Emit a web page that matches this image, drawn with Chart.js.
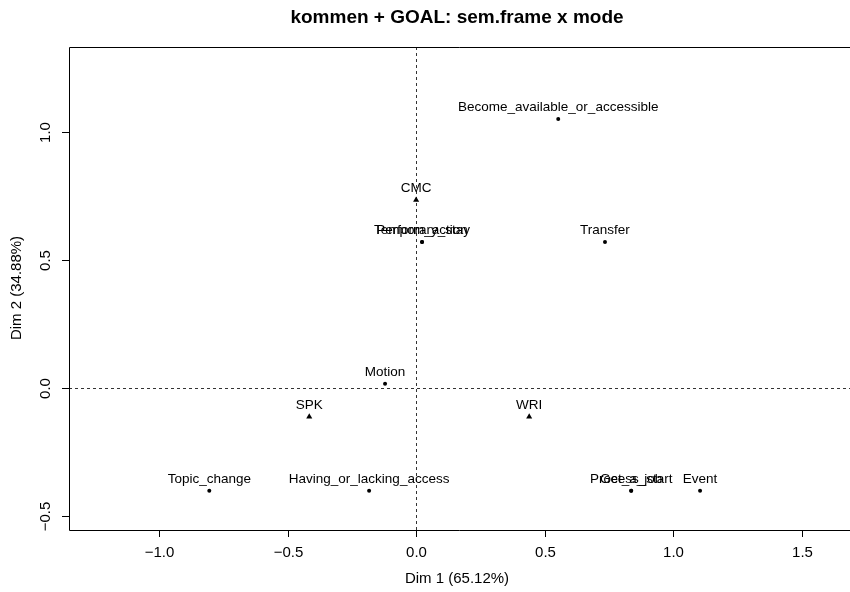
<!DOCTYPE html>
<html>
<head>
<meta charset="utf-8">
<script src="https://cdn.jsdelivr.net/npm/chart.js@4"></script>
<style>
  body { margin: 0; background: #fff; }
  #grafica { display: block; }
</style>
</head>
<body>
<canvas id="grafica" width="850" height="592"></canvas>
<script>
// filas (sem.frame) - puntos
const rowNames = ["Become_available_or_accessible", "Temporary_stay", "Perform_action", "Transfer",
  "Motion", "Topic_change", "Having_or_lacking_access", "Process_start", "Get_a_job", "Event"];
const rowX = [0.553, 0.023, 0.023, 0.735, -0.121, -0.805, -0.183, 0.837, 0.837, 1.105];
const rowY = [1.051, 0.570, 0.570, 0.570, 0.016, -0.402, -0.402, -0.402, -0.402, -0.402];

// columnas (mode) - triangulos
const colNames = ["CMC", "SPK", "WRI"];
const colX = [0.000, -0.416, 0.440];
const colY = [0.734, -0.113, -0.113];

const xTicks = [-1.0, -0.5, 0.0, 0.5, 1.0, 1.5];
const yTicks = [-0.5, 0.0, 0.5, 1.0];

const titulo = "kommen + GOAL: sem.frame x mode";
const tituloX = "Dim 1 (65.12%)";
const tituloY = "Dim 2 (34.88%)";

const fuente = '"Liberation Sans", Arial, Helvetica, sans-serif';
const fmt = v => (v < 0 ? "\u2212" : "") + Math.abs(v).toFixed(1);

// dibuja marco, ejes, etiquetas y textos
const decoracion = {
  id: "decoracion",
  beforeDatasetsDraw(chart) {
    const { ctx, chartArea: a, scales: { x, y } } = chart;
    ctx.save();
    // lineas punteadas en 0
    ctx.strokeStyle = "#333";
    ctx.lineWidth = 1;
    ctx.setLineDash([3, 3]);
    const x0 = Math.round(x.getPixelForValue(0)) + 0.5;
    const y0 = Math.round(y.getPixelForValue(0)) + 0.5;
    ctx.beginPath();
    ctx.moveTo(x0, a.top); ctx.lineTo(x0, a.bottom);
    ctx.moveTo(a.left, y0); ctx.lineTo(chart.width, y0);
    ctx.stroke();
    ctx.restore();
  },
  afterDatasetsDraw(chart) {
    const { ctx, chartArea: a, scales: { x, y } } = chart;
    ctx.save();
    // marco (sin lado derecho, queda fuera)
    ctx.strokeStyle = "#000";
    ctx.lineWidth = 1;
    ctx.beginPath();
    ctx.moveTo(chart.width, a.top + 0.5); ctx.lineTo(a.left + 0.5, a.top + 0.5);
    ctx.lineTo(a.left + 0.5, a.bottom + 0.5); ctx.lineTo(chart.width, a.bottom + 0.5);
    ctx.stroke();

    // ticks eje x
    ctx.fillStyle = "#000";
    ctx.font = "15px " + fuente;
    ctx.textAlign = "center";
    ctx.textBaseline = "middle";
    xTicks.forEach(v => {
      const px = Math.round(x.getPixelForValue(v)) + 0.5;
      ctx.beginPath(); ctx.moveTo(px, a.bottom); ctx.lineTo(px, a.bottom + 7); ctx.stroke();
      ctx.fillText(fmt(v), px, a.bottom + 23);
    });
    // ticks eje y (rotados)
    yTicks.forEach(v => {
      const py = Math.round(y.getPixelForValue(v)) + 0.5;
      ctx.beginPath(); ctx.moveTo(a.left, py); ctx.lineTo(a.left - 7, py); ctx.stroke();
      ctx.save();
      ctx.translate(a.left - 23, py);
      ctx.rotate(-Math.PI / 2);
      ctx.fillText(fmt(v), 0, 0);
      ctx.restore();
    });

    // titulos
    ctx.fillText(tituloX, 457, 579);
    ctx.save();
    ctx.translate(17, 288);
    ctx.rotate(-Math.PI / 2);
    ctx.fillText(tituloY, 0, 0);
    ctx.restore();
    ctx.font = "bold 19px " + fuente;
    ctx.fillText(titulo, 457, 18);

    // etiquetas de puntos
    ctx.font = "13.5px " + fuente;
    chart.data.datasets.forEach((ds, i) => {
      const meta = chart.getDatasetMeta(i);
      meta.data.forEach((p, j) => {
        ctx.fillText(ds.nombres[j], p.x, p.y - 12);
      });
    });
    ctx.restore();
  }
};

const ctx = document.getElementById("grafica").getContext("2d");
new Chart(ctx, {
  type: "scatter",
  data: {
    datasets: [
      {
        label: "sem.frame",
        nombres: rowNames,
        data: rowX.map((v, i) => ({ x: v, y: rowY[i] })),
        pointStyle: "circle",
        pointRadius: 2,
        backgroundColor: "#000",
        borderColor: "#000",
        borderWidth: 0
      },
      {
        label: "mode",
        nombres: colNames,
        data: colX.map((v, i) => ({ x: v, y: colY[i] })),
        pointStyle: "triangle",
        pointRadius: 3.5,
        backgroundColor: "#000",
        borderColor: "#000",
        borderWidth: 0
      }
    ]
  },
  options: {
    responsive: false,
    animation: false,
    layout: { padding: { top: 47, right: 0, left: 0, bottom: 0 } },
    plugins: { legend: { display: false }, tooltip: { enabled: false }, title: { display: false } },
    scales: {
      x: {
        type: "linear",
        min: -1.351,
        max: 1.673,
        grid: { display: false },
        border: { display: false },
        ticks: { display: false },
        afterFit: s => { s.height = 62; }
      },
      y: {
        type: "linear",
        min: -0.555,
        max: 1.332,
        grid: { display: false },
        border: { display: false },
        ticks: { display: false },
        afterFit: s => { s.width = 69; }
      }
    }
  },
  plugins: [decoracion]
});
</script>
</body>
</html>
